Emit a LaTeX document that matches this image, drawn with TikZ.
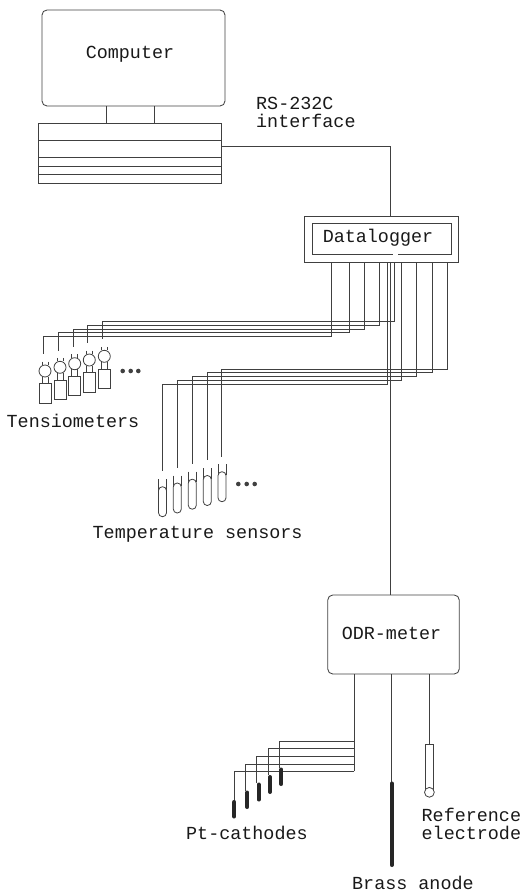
\documentclass[tikz,border=0pt]{standalone}
\usepackage{fontspec}
\setmonofont{Liberation Mono}
\tikzset{
  x=1pt,y=-1pt,
  wire/.style={draw=black!75,line width=0.8pt},
  frame/.style={draw=black!75,line width=0.85pt},
  lab/.style={inner sep=0pt,font=\fontsize{18.4}{18.4}\selectfont\ttfamily,text=black!90,align=left},
  probe/.style={draw=black!85,line width=4pt,line cap=round},
  blob/.style={circle,fill=black!75,draw=none,minimum size=4.6pt,inner sep=0pt}
}
\newcommand{\tensio}[2]{%
  \draw[wire,fill=white] (#1,#2) circle[radius=6];
  \draw[wire] (#1-3,#2-9.5) -- (#1-3,#2-6) (#1+3,#2-9.5) -- (#1+3,#2-6);
  \draw[wire] (#1-3,#2+5.5) -- (#1-3,#2+12.7) (#1+3,#2+5.5) -- (#1+3,#2+12.7);
  \draw[wire] (#1-6,#2+12.7) rectangle (#1+6,#2+32);
}
\newcommand{\capsule}[2]{%
  \draw[wire] (#1-4,#2-7.5) -- (#1-4,#2+3) (#1+4,#2-7.5) -- (#1+4,#2+3);
  \draw[wire,fill=white,rounded corners=3.9pt] (#1-4,#2) rectangle (#1+4,#2+30);
}
\begin{document}
\begin{tikzpicture}
\useasboundingbox (0,0) rectangle (522,892);
% computer
\node[frame,rounded corners=5pt,minimum width=183pt,minimum height=96pt,inner sep=0pt] (comp) at (133.5,58) {};
\node[lab] (comptext) at (130,54) {Computer};
\node[frame,minimum width=183pt,minimum height=60pt,inner sep=0pt] (base) at (129.5,153) {};
\draw[wire] (106,106) -- (106,123) (154,106) -- (154,123);
\draw[wire] (38,140) -- (221,140) (38,157) -- (221,157) (38,166) -- (221,166) (38,174.5) -- (221,174.5);
\node[lab,anchor=west] (rs) at (256,103) {RS-232C};
\node[lab,anchor=west] (rsb) at (256,121) {interface};
% datalogger
\node[frame,minimum width=154pt,minimum height=46pt,inner sep=0pt] (dl) at (381,239) {};
\node[frame,minimum width=139pt,minimum height=31pt,inner sep=0pt] (dlin) at (381.5,239) {};
\node[lab] (dltext) at (378,237.5) {Datalogger};
\draw[white,line width=1.6pt] (393,254) -- (398,254);
% ODR
\node[frame,rounded corners=5pt,minimum width=131.5pt,minimum height=79pt,inner sep=0pt] (odr) at (393.5,634.5) {};
\node[lab] (odrtext) at (391.5,633.5) {ODR-meter};
% main bus
\coordinate (busa) at (390.5,216);
\draw[wire] (base.east |- 0,146) -- (390.5,146) -- (busa);
\draw[wire] (390.5,262) -- (390.5,595);
% tensiometer wires
\foreach \xa/\ya/\xb/\yb in {394/321.5/102.5/339, 379/325/87.5/343, 364/329/73/347, 349.5/332.7/58/351, 331/336/43/354}
  \draw[wire] (\xa,262) -- (\xa,\ya) -- (\xb,\ya) -- (\xb,\yb);
\tensio{104.3}{356.3}
\tensio{89.3}{360}
\tensio{74.7}{363.7}
\tensio{60}{367.3}
\tensio{45}{371}
\node[blob] (d1) at (122.7,371) {};
\node[blob] (d2) at (130.7,371) {};
\node[blob] (d3) at (138.3,371) {};
\node[lab,anchor=west] (tens) at (6.5,420.5) {Tensiometers};
% temperature wires
\foreach \xa/\ya/\xb/\yb in {447/369/221.7/456.7, 432/372.7/207.3/460, 416/376.5/192.3/464, 401/380.5/177.3/467.7, 387/384.5/162.3/471}
  \draw[wire] (\xa,262) -- (\xa,\ya) -- (\xb,\ya) -- (\xb,\yb);
\capsule{222}{471.7}
\capsule{207.3}{475.5}
\capsule{192.3}{479.2}
\capsule{177.3}{483}
\capsule{162.5}{486.7}
\node[blob] (e1) at (238.3,484) {};
\node[blob] (e2) at (246.7,484) {};
\node[blob] (e3) at (254.7,484) {};
\node[lab,anchor=west] (temp) at (92.5,534) {Temperature sensors};
% cathodes
\draw[wire] (354.3,674) -- (354.3,771.3);
\foreach \xb/\ya/\yb in {279/741/768, 268/748.7/775, 256.7/756.3/783, 245/764/791, 234.3/771.3/801}
  \draw[wire] (354.3,\ya) -- (\xb,\ya) -- (\xb,\yb);
\draw[probe] (281.3,769.5) -- (281.3,784);
\draw[probe] (270,777) -- (270,792);
\draw[probe] (258.7,784.5) -- (258.7,799.5);
\draw[probe] (247.3,792.5) -- (247.3,807);
\draw[probe] (234.3,802) -- (234.3,816.5);
\node[lab,anchor=west] (pt) at (186,833) {Pt-cathodes};
% anode
\draw[wire] (391.7,674) -- (391.7,784);
\draw[probe] (391.8,783.5) -- (391.8,865);
\node[lab,anchor=west] (brass) at (352,883) {Brass anode};
% reference
\draw[wire] (429,674) -- (429,744);
\draw[wire,rounded corners=0pt] (425.3,791.5) -- (425.3,744) -- (433.6,744) -- (433.6,791.5);
\draw[wire,fill=white] (429.4,792.3) circle[radius=4.9];
\node[lab,anchor=west] (ref) at (421.5,814.5) {Reference};
\node[lab,anchor=west] (refb) at (421.5,832.5) {electrode};
\end{tikzpicture}
\end{document}
